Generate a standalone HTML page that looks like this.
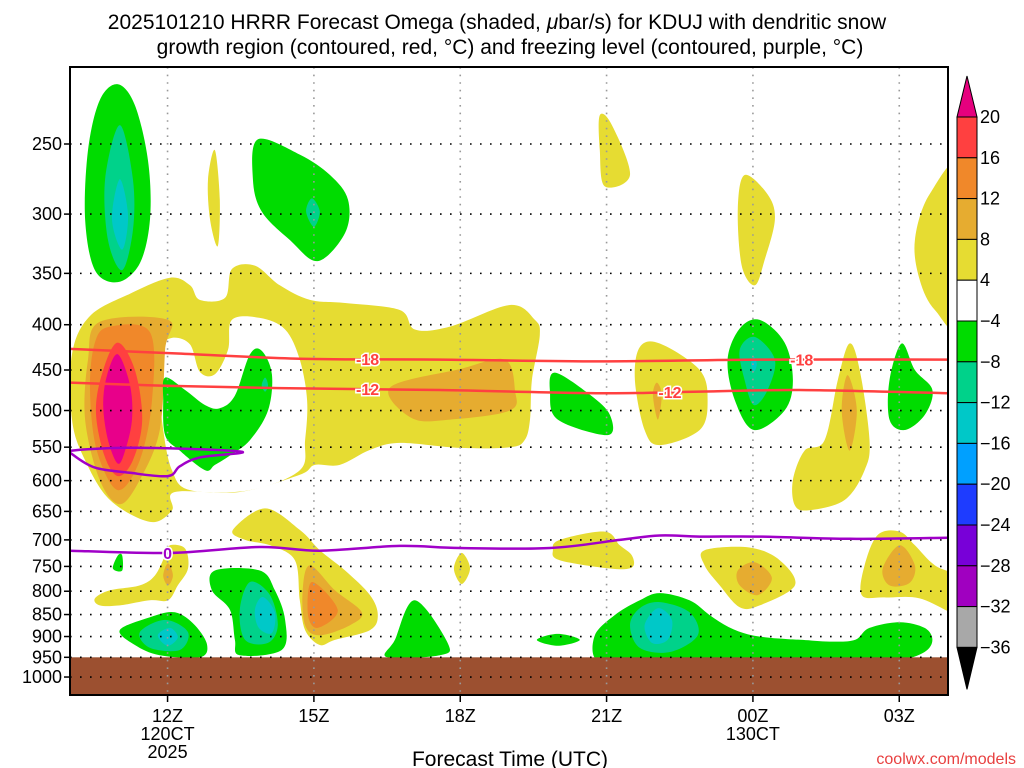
<!DOCTYPE html>
<html><head><meta charset="utf-8"><title>HRRR Omega KDUJ</title>
<style>
html,body{margin:0;padding:0;background:#fff;}
svg{display:block;}
text{font-family:"Liberation Sans Narrow","Liberation Sans",sans-serif;}
</style></head>
<body>
<svg id="chart" width="1024" height="768" viewBox="0 0 1024 768" xmlns="http://www.w3.org/2000/svg">
<rect x="0" y="0" width="1024" height="768" fill="#fff"/>
<g>
<text x="497" y="29" text-anchor="middle" font-size="21" fill="#000">2025101210 HRRR Forecast Omega (shaded, <tspan font-style="italic">μ</tspan>bar/s) for KDUJ with dendritic snow</text>
<text x="510" y="54" text-anchor="middle" font-size="21" fill="#000">growth region (contoured, red, °C) and freezing level (contoured, purple, °C)</text>
</g>
<defs><clipPath id="plotclip"><rect x="70" y="67" width="878" height="628"/></clipPath></defs>
<g id="fills" clip-path="url(#plotclip)"></g>
<g id="ground" clip-path="url(#plotclip)"></g>
<g id="grid"></g>
<g id="contours" clip-path="url(#plotclip)"></g>
<rect x="70" y="67" width="878" height="628" fill="none" stroke="#000" stroke-width="2"/>
<g id="yaxis"></g>
<g id="xaxis"></g>
<text x="510" y="766" text-anchor="middle" font-size="21" fill="#000">Forecast Time (UTC)</text>
<text x="1016" y="764" text-anchor="end" font-size="16" fill="#e84040">coolwx.com/models</text>
<g id="colorbar"></g>
</svg>
<script>
// ---- axis ticks ----
const pressureTicks = [250,300,350,400,450,500,550,600,650,700,750,800,850,900,950,1000];
const hourTicks = [12,15,18,21,24,27];
const hourLabels = ["12Z","15Z","18Z","21Z","00Z","03Z"];
const dateLabels = [["120CT","2025"],[],[],[],["130CT"],[]];
const groundPressure = 950;
// ---- omega shaded areas: polygons of [hour, pressure] ----
const yellowAreas = [
 [[10.04,432],[10.41,391],[11.23,369],[12.05,354],[12.46,361],[12.66,375],[13.18,373],[13.32,346],[13.79,343],[14.30,361],[14.92,375],[15.64,378],[16.76,385],[17.07,405],[17.79,402],[19.02,380],[19.53,395],[19.63,411],[19.47,462],[19.43,512],[19.32,540],[19.02,550],[17.99,551],[16.76,544],[16.15,554],[15.53,576],[15.02,576],[14.71,591],[13.48,618],[12.15,618],[12.09,648],[11.64,668],[10.82,631],[10.31,569],[10.04,512]],
 [[12.97,254],[13.07,289],[13.03,326],[12.87,304],[12.83,274]],
 [[20.86,232],[21.11,238],[21.48,271],[20.96,279],[20.86,254]],
 [[23.83,271],[24.30,285],[24.45,304],[24.24,338],[24.04,361],[23.77,343],[23.69,296]],
 [[28.3,265],[28.3,400],[27.73,385],[27.42,356],[27.32,321],[27.62,285]],
 [[21.68,424],[22.09,420],[22.91,450],[23.07,487],[22.91,526],[22.09,547],[21.78,526],[21.58,462]],
 [[25.98,420],[26.19,450],[26.39,540],[26.29,584],[25.88,631],[25.16,648],[24.86,640],[24.82,599],[25.06,555],[25.47,540],[25.74,462]],
 [[10.51,815],[10.82,798],[11.43,788],[11.74,768],[11.95,729],[12.05,710],[12.36,716],[12.42,754],[12.21,788],[12.01,819],[11.64,819],[11.02,830],[10.61,830]],
 [[13.34,682],[14.0,645],[14.71,682],[15.12,719],[15.64,758],[16.15,808],[16.31,851],[16.15,885],[15.43,908],[15.12,920],[14.82,885],[14.71,819],[14.61,738],[14.10,710],[13.59,700]],
 [[18.03,724],[18.20,754],[18.03,785],[17.87,754]],
 [[20.04,700],[20.96,685],[21.27,710],[21.52,729],[21.52,752],[21.07,754],[20.04,738],[19.90,719]],
 [[23.01,719],[23.93,714],[24.55,738],[24.86,788],[24.14,830],[23.73,834],[23.32,788],[23.01,748]],
 [[26.56,691],[27.01,685],[27.32,710],[27.73,748],[28.3,777],[28.3,851],[27.42,815],[26.70,813],[26.23,808],[26.29,748]]
];
const holeAreas = [
 [[11.84,427],[12.09,414],[12.46,421],[12.66,452],[12.97,455],[13.24,427],[13.32,395],[13.89,393],[14.41,405],[14.71,438],[14.86,487],[14.82,540],[14.71,584],[13.69,615],[12.46,615],[12.09,584],[11.91,526],[11.84,474]]
];
const darkYellowAreas = [
 [[10.61,397],[12.01,395],[11.95,427],[11.84,526],[11.43,599],[11.02,638],[10.61,599],[10.31,512],[10.37,438]],
 [[22.03,465],[22.13,480],[22.05,512],[21.95,480]],
 [[25.94,456],[26.13,500],[25.98,555],[25.82,500]],
 [[16.56,471],[17.99,449],[18.91,438],[19.12,474],[19.02,500],[17.79,512],[17.01,510]],
 [[12.01,744],[12.11,768],[12.01,788],[11.91,768]],
 [[14.92,748],[15.43,798],[15.98,845],[15.74,874],[15.12,897],[14.82,874],[14.77,798]],
 [[24.04,742],[24.39,773],[24.10,808],[23.73,788],[23.69,758]],
 [[27.01,710],[27.32,748],[27.21,783],[26.80,788],[26.66,754]]
];
const orangeAreas = [
 [[10.82,402],[11.64,408],[11.68,487],[11.43,569],[10.98,615],[10.55,555],[10.41,474],[10.51,419]],
 [[14.96,781],[15.49,840],[15.08,880],[14.88,851]]
];
const redAreas = [
 [[10.98,419],[11.33,450],[11.48,512],[11.29,569],[10.98,593],[10.70,561],[10.53,500],[10.68,450]]
];
const magentaAreas = [
 [[10.98,432],[11.23,468],[11.27,512],[11.13,555],[10.98,574],[10.78,540],[10.68,493],[10.76,456]]
];
const greenAreas = [
 [[10.98,214],[11.33,226],[11.60,261],[11.64,304],[11.43,341],[10.98,358],[10.51,347],[10.31,304],[10.37,254],[10.61,223]],
 [[13.85,247],[14.71,257],[15.33,271],[15.70,289],[15.64,315],[15.08,339],[14.51,321],[13.93,298],[13.75,274]],
 [[24.14,395],[24.65,419],[24.82,462],[24.65,500],[24.02,526],[23.63,487],[23.48,438],[23.73,404]],
 [[27.05,420],[27.32,450],[27.68,474],[27.52,506],[27.11,526],[26.80,512],[26.80,462]],
 [[19.94,453],[20.66,480],[21.07,506],[21.02,533],[20.00,512],[19.84,477]],
 [[11.95,459],[12.36,474],[12.77,493],[13.07,497],[13.38,481],[13.69,432],[13.93,428],[14.14,455],[14.06,500],[13.69,540],[13.28,562],[12.97,576],[12.77,584],[12.25,555],[11.95,533],[11.91,487]],
 [[10.98,729],[11.07,729],[11.07,758],[10.88,754]],
 [[11.02,885],[11.64,856],[12.15,845],[12.56,874],[12.81,920],[12.66,950],[11.84,945],[11.33,920]],
 [[12.97,758],[13.89,758],[14.20,798],[14.41,862],[14.34,932],[13.48,945],[13.38,908],[13.28,840],[12.91,798]],
 [[17.07,819],[17.75,917],[17.58,945],[16.50,950],[16.66,908]],
 [[19.57,908],[20.0,894],[20.45,908],[20.0,922]],
 [[21.17,851],[21.68,819],[22.09,804],[22.70,819],[23.11,851],[23.50,878],[23.90,895],[24.34,903],[24.70,906],[25.02,908],[25.57,912],[26.09,908],[26.39,880],[27.01,867],[27.52,880],[27.68,908],[27.52,937],[27.01,957],[26.3,957],[25.5,957],[24.5,957],[23.5,957],[22.5,957],[21.5,957],[20.80,957],[20.76,897]]
];
const tealAreas = [
 [[11.02,238],[11.29,274],[11.29,313],[11.07,347],[10.78,321],[10.72,274]],
 [[14.96,288],[15.12,298],[15.00,310],[14.84,298]],
 [[24.04,413],[24.45,438],[24.30,474],[24.02,493],[23.83,462],[23.73,427]],
 [[14.0,459],[14.06,468],[14.0,476],[13.93,468]],
 [[11.43,890],[11.95,862],[12.42,890],[12.25,932],[11.64,927]],
 [[13.69,781],[14.10,808],[14.26,874],[14.06,915],[13.59,908],[13.48,840]],
 [[22.09,823],[22.70,845],[22.87,897],[22.30,937],[21.68,927],[21.48,874],[21.68,836]]
];
const cyanAreas = [
 [[11.02,274],[11.19,301],[11.07,329],[10.86,304]],
 [[24.02,435],[24.08,443],[24.02,452],[23.96,443]],
 [[11.80,897],[12.05,880],[12.21,902],[12.0,922]],
 [[13.95,812],[14.20,845],[14.14,892],[13.87,880],[13.79,840]],
 [[22.05,836],[22.34,862],[22.25,908],[21.93,915],[21.78,874]]
];
// ---- temperature contours [hour, pressure] ----
const isoMinus18 = [[10,426],[12.15,431],[14.71,437],[17.58,438],[20.86,440],[24.14,438],[28,438]];
const isoMinus12 = [[10,465],[12.05,469],[14.71,472],[17.58,474],[20.86,478],[22.91,476],[24.96,474],[28,478]];
const freezingLevel = [[10,720],[12.05,724],[13.89,713],[15.12,720],[16.76,711],[17.99,715],[19.84,715],[21.27,700],[22.09,692],[22.91,694],[24.14,694],[25.98,698],[28,696]];
const freezingLoop = [[10.04,555],[11.02,551],[12.25,552],[13.54,557],[12.66,565],[12.25,578],[12.01,593],[11.23,588],[10.51,580],[10.04,560]];
const labels18 = [16.1,25.0];
const labels12 = [16.1,22.3];
const labels0 = [12.0];
// ---- colorbar ----
const cbLevels = ["20","16","12","8","4","\u22124","\u22128","\u221212","\u221216","\u221220","\u221224","\u221228","\u221232","\u221236"];
const cbColors = ["#ff4040","#f0882a","#e6ac30","#e6dc32","#ffffff","#00dc00","#00d28a","#00c8c8","#00a0ff","#1e3cff","#7800d8","#a000c0","#a8a8a8"];

const NS="http://www.w3.org/2000/svg";
const X0=70, X1=948, Y0=67, Y1=695;
function xs(h){return X0+(h-10)*48.78;}
function ys(p){return 144+384.5*Math.log(p/250);}
function mk(tag,attrs,parent){const e=document.createElementNS(NS,tag);for(const k in attrs)e.setAttribute(k,attrs[k]);parent.appendChild(e);return e;}
function smoothClosed(pts){
  const P=pts.map(q=>[xs(q[0]),ys(q[1])]);const n=P.length;let d="M"+P[0][0].toFixed(1)+","+P[0][1].toFixed(1);
  for(let i=0;i<n;i++){const p0=P[(i-1+n)%n],p1=P[i],p2=P[(i+1)%n],p3=P[(i+2)%n];
    const c1=[p1[0]+(p2[0]-p0[0])/6,p1[1]+(p2[1]-p0[1])/6],c2=[p2[0]-(p3[0]-p1[0])/6,p2[1]-(p3[1]-p1[1])/6];
    d+="C"+c1[0].toFixed(1)+","+c1[1].toFixed(1)+" "+c2[0].toFixed(1)+","+c2[1].toFixed(1)+" "+p2[0].toFixed(1)+","+p2[1].toFixed(1);}
  return d+"Z";}
function smoothOpen(pts){
  const P=pts.map(q=>[xs(q[0]),ys(q[1])]);const n=P.length;let d="M"+P[0][0].toFixed(1)+","+P[0][1].toFixed(1);
  for(let i=0;i<n-1;i++){const p0=P[Math.max(i-1,0)],p1=P[i],p2=P[i+1],p3=P[Math.min(i+2,n-1)];
    const c1=[p1[0]+(p2[0]-p0[0])/6,p1[1]+(p2[1]-p0[1])/6],c2=[p2[0]-(p3[0]-p1[0])/6,p2[1]-(p3[1]-p1[1])/6];
    d+="C"+c1[0].toFixed(1)+","+c1[1].toFixed(1)+" "+c2[0].toFixed(1)+","+c2[1].toFixed(1)+" "+p2[0].toFixed(1)+","+p2[1].toFixed(1);}
  return d;}
function interpP(line,h){for(let i=0;i<line.length-1;i++){if(h>=line[i][0]&&h<=line[i+1][0]){const t=(h-line[i][0])/(line[i+1][0]-line[i][0]);return line[i][1]+t*(line[i+1][1]-line[i][1]);}}return line[line.length-1][1];}

const fills=document.getElementById('fills');
const layers=[[yellowAreas,"#e6dc32","area-omega-4-8"],[holeAreas,"#ffffff","area-omega-neutral"],[darkYellowAreas,"#e6ac30","area-omega-8-12"],[orangeAreas,"#f0882a","area-omega-12-16"],[redAreas,"#ff4040","area-omega-16-20"],[magentaAreas,"#e8008a","area-omega-above-20"],[greenAreas,"#00dc00","area-omega-minus4-8"],[tealAreas,"#00d28a","area-omega-minus8-12"],[cyanAreas,"#00c8c8","area-omega-minus12-16"]];
layers.forEach(L=>{L[0].forEach(poly=>{
  const el=mk('path',{d:smoothClosed(poly),fill:L[1]},fills);
  
  
});});

const ground=document.getElementById('ground');
const gr=mk('rect',{x:X0,y:ys(groundPressure),width:X1-X0,height:Y1-ys(groundPressure),fill:"#9c5030"},ground);



const grid=document.getElementById('grid');
const yax=document.getElementById('yaxis');
pressureTicks.forEach(p=>{
  const y=ys(p);
  const gl=mk('line',{x1:X0,x2:X1,y1:y,y2:y,stroke:"#000","stroke-width":1.6,"stroke-dasharray":"1.6 8.4"},grid);
  
  
  mk('line',{x1:X0-6,x2:X0,y1:y,y2:y,stroke:"#000","stroke-width":1.5},yax);
  const t=mk('text',{x:X0-8,y:y+6,"text-anchor":"end","font-size":18,fill:"#000"},yax);
  t.textContent=p;
  
  
});
const xax=document.getElementById('xaxis');
hourTicks.forEach((h,i)=>{
  const x=xs(h);
  const gl=mk('line',{x1:x,x2:x,y1:Y0,y2:Y1,stroke:"#999","stroke-width":1.6,"stroke-dasharray":"1.6 6"},grid);
  
  
  mk('line',{x1:x,x2:x,y1:Y1,y2:Y1+7,stroke:"#000","stroke-width":1.5},xax);
  const t=mk('text',{x:x,y:722,"text-anchor":"middle","font-size":18,fill:"#000"},xax);
  t.textContent=hourLabels[i];
  
  
  dateLabels[i].forEach((s,j)=>{
    const d=mk('text',{x:x,y:740+18*j,"text-anchor":"middle","font-size":18,fill:"#000"},xax);
    d.textContent=s;
    
    
  });
});

const con=document.getElementById('contours');
function drawLine(pts,color,name,closed){
  const el=mk('path',{d:closed?smoothClosed(pts):smoothOpen(pts),fill:"none",stroke:color,"stroke-width":2.5},con);
  
  
}
function drawLabel(line,h,txt,color,name){
  const x=xs(h),y=ys(interpP(line,h));
  const t=mk('text',{x:x,y:y+6,"text-anchor":"middle","font-size":16,"font-weight":"bold",fill:color,stroke:"#fff","stroke-width":3,"paint-order":"stroke"},con);
  t.textContent=txt;
  
  
}
drawLine(isoMinus18,"#ff4040","isotherm-minus18",false);
drawLine(isoMinus12,"#ff4040","isotherm-minus12",false);
drawLine(freezingLevel,"#a000c8","freezing-level-line",false);
drawLine(freezingLoop,"#a000c8","freezing-level-loop",true);
labels18.forEach(h=>drawLabel(isoMinus18,h,"-18","#ff4040","isotherm-label-minus18"));
labels12.forEach(h=>drawLabel(isoMinus12,h,"-12","#ff4040","isotherm-label-minus12"));
labels0.forEach(h=>drawLabel(freezingLevel,h,"0","#a000c8","freezing-label-0"));

// colorbar
const cb=document.getElementById('colorbar');
const cbx=957, cbw=20, cbTop=117, cbStep=40.8;
const topArrow=mk('polygon',{points:`${cbx},${cbTop} ${cbx+cbw},${cbTop} ${cbx+cbw/2},${cbTop-41}`,fill:"#e6007e",stroke:"#000","stroke-width":1},cb);


cbColors.forEach((c,i)=>{
  const r=mk('rect',{x:cbx,y:cbTop+i*cbStep,width:cbw,height:cbStep,fill:c,stroke:"#000","stroke-width":1},cb);
  
  
});
const botY=cbTop+cbColors.length*cbStep;
const botArrow=mk('polygon',{points:`${cbx},${botY} ${cbx+cbw},${botY} ${cbx+cbw/2},${botY+42}`,fill:"#000",stroke:"#000","stroke-width":1},cb);


cbLevels.forEach((s,i)=>{
  const t=mk('text',{x:cbx+cbw+3,y:cbTop+i*cbStep+6,"font-size":18,fill:"#000"},cb);
  t.textContent=s;
  
  
});
</script>
</body></html>
